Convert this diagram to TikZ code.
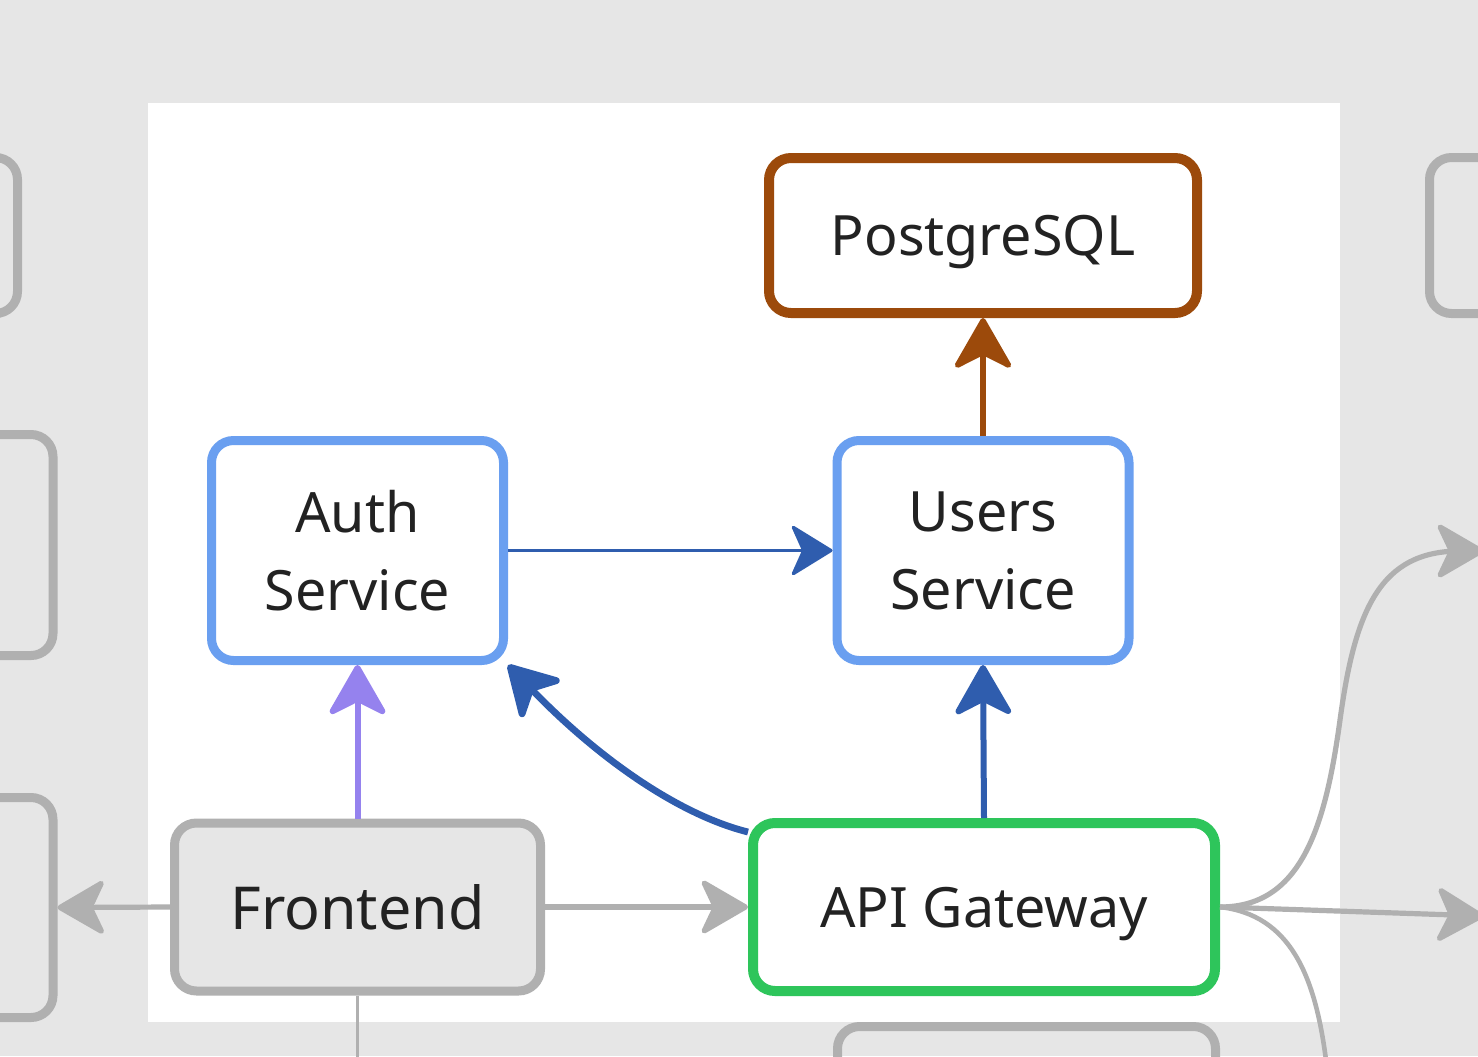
\documentclass[tikz,border=0pt]{standalone}
\usepackage{fontspec}
\setmainfont{Noto Sans}
\usetikzlibrary{arrows.meta,calc}
\definecolor{bggray}{HTML}{E6E6E6}
\definecolor{edgegray}{HTML}{B0B0B0}
\definecolor{brownc}{HTML}{9C4A0B}
\definecolor{lblue}{HTML}{6A9FF0}
\definecolor{dblue}{HTML}{2F5DAE}
\definecolor{purp}{HTML}{9582EE}
\definecolor{greenc}{HTML}{2EC55B}
\definecolor{txt}{HTML}{222222}
\tikzset{
  box/.style={rectangle, rounded corners=11pt, inner sep=0pt, align=center,
    text=txt, font=\fontsize{27.8}{39}\selectfont, fill=white},
  partial/.style={rectangle, rounded corners=11pt, draw=edgegray, line width=4.5pt, inner sep=0pt},
  bighead/.style={-{Stealth[length=28pt,width=32pt,inset=8pt,round]}},
  midhead/.style={-{Stealth[length=26pt,width=30pt,inset=7pt,round]}},
}
\begin{document}
\begin{tikzpicture}[x=0.5pt,y=-0.5pt]
\useasboundingbox (0,0) rectangle (1478,1056);
\clip (0,0) rectangle (1478,1056);
\fill[bggray] (0,0) rectangle (1478,1056);
\fill[white] (148,103) rectangle (1340,1022);

% partial nodes off the panel
\node[partial, minimum width=150pt, minimum height=78pt] (l1) at (-132.5,235.5) {};
\node[partial, minimum width=150pt, minimum height=110.5pt] (l2) at (-97,545) {};
\node[partial, minimum width=150pt, minimum height=110pt] (l3) at (-97,907.5) {};
\node[partial, minimum width=150pt, minimum height=78pt] (r1) at (1579.5,235.5) {};
\node[partial, minimum width=189pt, minimum height=100pt] (b1) at (1026.5,1126.5) {};

% main nodes
\node[box, draw=brownc, line width=5pt, minimum width=214pt, minimum height=77.5pt, text depth=0pt] (pg) at (983,235.5) {PostgreSQL};
\node[box, draw=lblue, line width=4.5pt, minimum width=146pt, minimum height=110pt] (auth) at (357.5,550.5) {Auth\\Service};
\node[box, draw=lblue, line width=4.5pt, minimum width=146pt, minimum height=110pt] (users) at (983,550.5) {Users\\Service};
\node[box, fill=bggray, draw=edgegray, line width=4.5pt, minimum width=183pt, minimum height=84pt, font=\fontsize{29.6}{39}\selectfont] (front) at (357.5,907) {Frontend};
\node[box, draw=greenc, line width=5pt, minimum width=231pt, minimum height=84pt, text depth=0pt] (api) at (984,907) {API Gateway};

\coordinate (o1) at (1484,551);
\coordinate (o2) at (1484,916);
\coordinate (o3) at (1326,1060);
\coordinate (o4) at (357.5,1060);

% connectors
\draw[edgegray, line width=2.6pt, midhead] (front.west) -- (l3.east);
\draw[edgegray, line width=2.6pt, midhead] (front.east) -- (api.west);
\draw[edgegray, line width=1.5pt] (front.south) -- (o4);
\draw[purp, line width=3pt, bighead] (front.north) -- (auth.south);
\draw[dblue, line width=3pt, bighead] (api.north) -- (users.south);
\draw[dblue, line width=3.4pt, bighead] ([yshift=-7pt]api.north west) .. controls (680,815) and (600,760) .. (auth.south east);
\draw[dblue, line width=1.6pt, -{Stealth[length=22pt,width=27pt,inset=6pt,round]}] (auth.east) -- (users.west);
\draw[brownc, line width=2.7pt, bighead] (users.north) -- (pg.south);
\draw[edgegray, line width=2.6pt, midhead] (api.east) .. controls (1300,907) and (1325,830) .. (1340,720)
   .. controls (1355,610) and (1380,551) .. (1460,551) -- (o1);
\draw[edgegray, line width=2.6pt, midhead] (api.east) -- (o2);
\draw[edgegray, line width=2.3pt] (api.east) .. controls (1290,915) and (1315,975) .. (o3);
\end{tikzpicture}
\end{document}
